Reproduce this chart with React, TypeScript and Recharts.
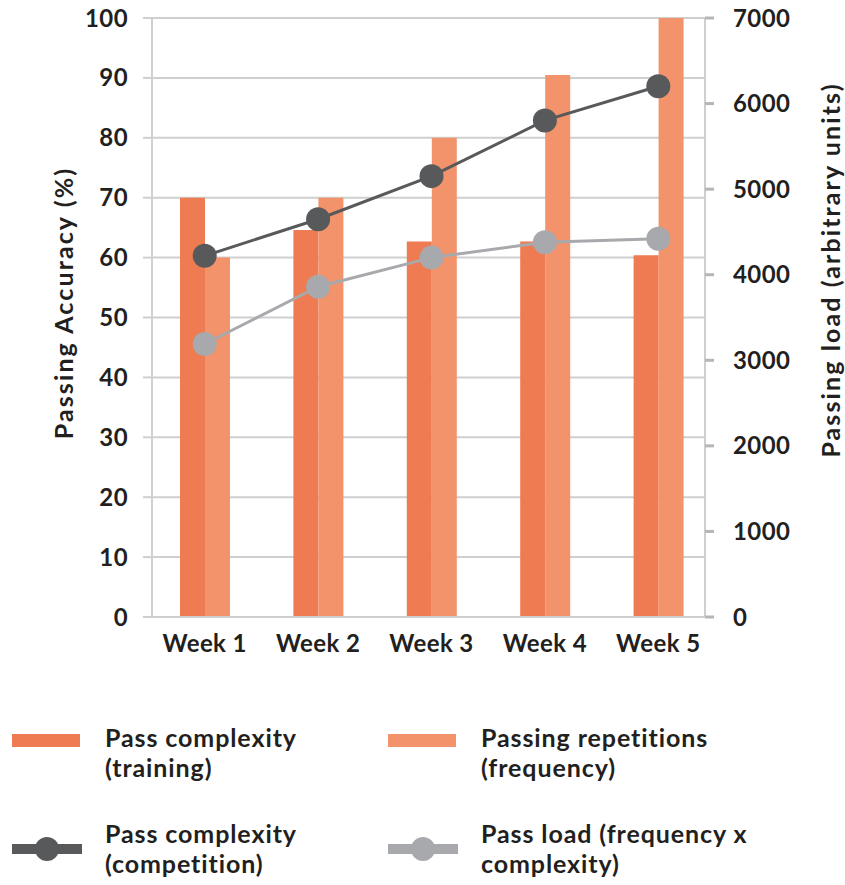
import { ComposedChart, Bar, Line, XAxis, YAxis, CartesianGrid } from 'recharts'

const weeks = ['Week 1', 'Week 2', 'Week 3', 'Week 4', 'Week 5']
// percent, left axis
const complexityTraining = [70, 64.6, 62.7, 62.7, 60.4]
const repetitions = [60, 70, 80, 90.5, 100]
const complexityCompetition = [60.3, 66.4, 73.6, 82.9, 88.6]
// arbitrary units, right axis
const passLoad = [3190, 3860, 4200, 4380, 4420]

const accuracyTicks = [0, 10, 20, 30, 40, 50, 60, 70, 80, 90, 100]
const loadTicks = [0, 1000, 2000, 3000, 4000, 5000, 6000, 7000]

const data = weeks.map((week, i) => ({
  week,
  training: complexityTraining[i],
  reps: repetitions[i],
  competition: complexityCompetition[i],
  load: passLoad[i],
}))

const ORANGE = '#ee7b51'
const LIGHT_ORANGE = '#f2936c'
const DARK = '#58595b'
const GREY = '#a7a9ac'
const TEXT = '#231f20'
const FONT = 'Lato, sans-serif'

const tickStyle = { fill: TEXT, fontSize: 24, fontWeight: 700, fontFamily: FONT, letterSpacing: 0.4 }

const titleStyle = {
  position: 'absolute' as const,
  transform: 'translate(-50%, -50%) rotate(-90deg)',
  whiteSpace: 'nowrap' as const,
  fontFamily: FONT,
  fontWeight: 700,
  fontSize: 25,
  letterSpacing: 2.1,
  color: TEXT,
}

function LegendItem({ x, y, kind, color, lines }: { x: number; y: number; kind: 'bar' | 'line'; color: string; lines: string[] }) {
  return (
    <div style={{ position: 'absolute', left: x, top: y }}>
      {kind === 'bar' ? (
        <div style={{ position: 'absolute', left: 0, top: 8, width: 68, height: 13, background: color }} />
      ) : (
        <div style={{ position: 'absolute', left: 0, top: 0, width: 70, height: 30 }}>
          <div style={{ position: 'absolute', left: 0, top: 22, width: 70, height: 10, background: color }} />
          <div style={{ position: 'absolute', left: 23, top: 15, width: 24, height: 24, borderRadius: 12, background: color }} />
        </div>
      )}
      <div
        style={{
          position: 'absolute',
          left: 93,
          top: -4,
          width: 340,
          fontFamily: FONT,
          fontWeight: 700,
          fontSize: 25,
          letterSpacing: 0.9,
          lineHeight: '30px',
          color: TEXT,
        }}
      >
        {lines.map((l) => (
          <div key={l}>{l}</div>
        ))}
      </div>
    </div>
  )
}

export default function App() {
  return (
    <div style={{ position: 'absolute', left: 0, top: 0, width: 845, height: 885, background: '#fff' }}>
      <ComposedChart width={845} height={680} data={data} margin={{ top: 18, right: 0, bottom: 23, left: 0 }} barGap={0}>
        <CartesianGrid horizontal vertical={false} stroke="#cfcfcf" strokeWidth={2} yAxisId="left" />
        <XAxis
          dataKey="week"
          padding={{ left: -4, right: -10 }}
          axisLine={{ stroke: '#cfcfcf', strokeWidth: 2 }}
          tickLine={false}
          tickSize={6}
          tickMargin={12}
          height={40}
          tick={tickStyle}
          interval={0}
        />
        <YAxis
          yAxisId="left"
          orientation="left"
          width={152}
          domain={[0, 100]}
          ticks={accuracyTicks}
          interval={0}
          axisLine={{ stroke: '#cfcfcf', strokeWidth: 2 }}
          tickLine={{ stroke: '#cfcfcf', strokeWidth: 2 }}
          tickSize={9}
          tickMargin={15}
          tick={tickStyle}
        />
        <YAxis
          yAxisId="right"
          orientation="right"
          width={140}
          domain={[0, 7000]}
          ticks={loadTicks}
          interval={0}
          axisLine={{ stroke: '#cfcfcf', strokeWidth: 2 }}
          tickLine={{ stroke: '#b5b6b8', strokeWidth: 3 }}
          tickSize={9}
          tickMargin={19}
          tick={tickStyle}
        />
        <Bar yAxisId="left" dataKey="training" fill={ORANGE} barSize={25} isAnimationActive={false} />
        <Bar yAxisId="left" dataKey="reps" fill={LIGHT_ORANGE} barSize={25} isAnimationActive={false} />
        <Line
          yAxisId="left"
          dataKey="competition"
          stroke={DARK}
          strokeWidth={3}
          dot={{ r: 12, fill: DARK, stroke: 'none' }}
          isAnimationActive={false}
        />
        <Line
          yAxisId="right"
          dataKey="load"
          stroke={GREY}
          strokeWidth={3}
          dot={{ r: 12, fill: GREY, stroke: 'none' }}
          isAnimationActive={false}
        />
      </ComposedChart>

      <div style={{ ...titleStyle, left: 63, top: 303 }}>Passing Accuracy (%)</div>
      <div style={{ ...titleStyle, left: 830, top: 270 }}>Passing load (arbitrary units)</div>

      <LegendItem x={12} y={726} kind="bar" color={ORANGE} lines={['Pass complexity', '(training)']} />
      <LegendItem x={388} y={726} kind="bar" color={LIGHT_ORANGE} lines={['Passing repetitions', '(frequency)']} />
      <LegendItem x={12} y={822} kind="line" color={DARK} lines={['Pass complexity', '(competition)']} />
      <LegendItem x={388} y={822} kind="line" color={GREY} lines={['Pass load (frequency x', 'complexity)']} />
    </div>
  )
}
